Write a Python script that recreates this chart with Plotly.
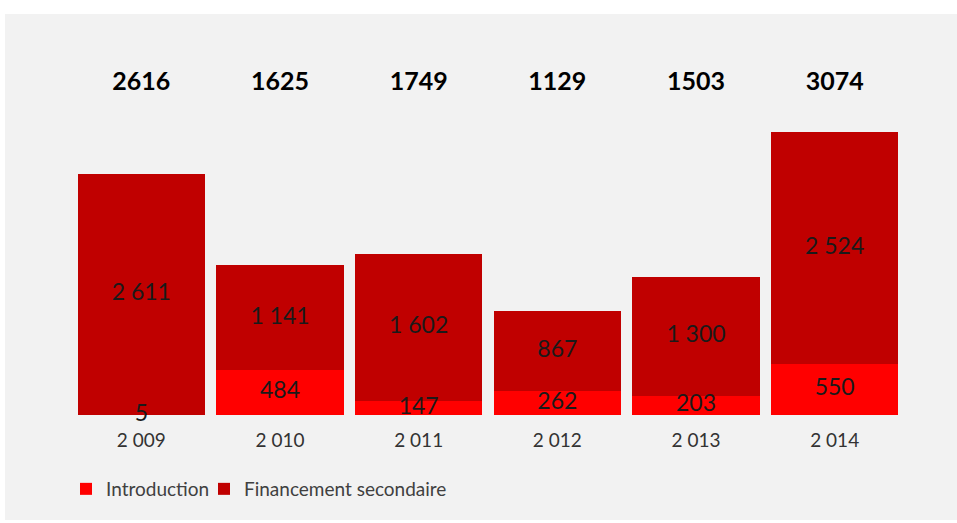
import plotly.graph_objects as go

years = ["2 009", "2 010", "2 011", "2 012", "2 013", "2 014"]
introduction = [5, 484, 147, 262, 203, 550]
financement = [2611, 1141, 1602, 867, 1300, 2524]
totals = [2616, 1625, 1749, 1129, 1503, 3074]

FONT = "Lato"
W, H = 957, 523
L, R, T, B = 72, 53, 60, 108
PW, PH = W - L - R, H - T - B
YMAX = 3854


def fmt(v):
    return f"{v:,}".replace(",", " ")


def px_x(p):
    return (p - L) / PW


def px_y(p):
    return (H - B - p) / PH


fig = go.Figure()
fig.add_trace(go.Bar(x=years, y=introduction, name="Introduction",
                     marker=dict(color="#ff0000", line=dict(width=0)),
                     hoverinfo="skip", legend="legend"))
fig.add_trace(go.Bar(x=years, y=financement, name="Financement secondaire",
                     marker=dict(color="#c00000", line=dict(width=0)),
                     hoverinfo="skip", legend="legend2"))

# segment labels
fig.add_trace(go.Scatter(
    x=years, y=[v / 2 for v in introduction], mode="text",
    text=[fmt(v) for v in introduction],
    textfont=dict(family=FONT, size=23, color="#1a1a1a"),
    showlegend=False, hoverinfo="skip", cliponaxis=False))
fig.add_trace(go.Scatter(
    x=years, y=[i + f / 2 for i, f in zip(introduction, financement)], mode="text",
    text=[fmt(v) for v in financement],
    textfont=dict(family=FONT, size=23, color="#1a1a1a"),
    showlegend=False, hoverinfo="skip", cliponaxis=False))
# totals
fig.add_trace(go.Scatter(
    x=years, y=[3600] * len(years), mode="text",
    text=[f"<b>{v}</b>" for v in totals],
    textfont=dict(family=FONT, size=25, color="#000000"),
    showlegend=False, hoverinfo="skip", cliponaxis=False))

fig.add_shape(type="rect", xref="paper", yref="paper",
              x0=px_x(5), x1=px_x(960), y0=px_y(520), y1=px_y(14),
              fillcolor="#f2f2f2", line=dict(width=0), layer="below")

legend_style = dict(orientation="h", xanchor="left",
                    y=px_y(489), yanchor="middle",
                    font=dict(family=FONT, size=19, color="#404040"),
                    bgcolor="rgba(0,0,0,0)", itemwidth=30)

fig.update_layout(
    width=W, height=H,
    margin=dict(l=L, r=R, t=T, b=B),
    paper_bgcolor="white", plot_bgcolor="rgba(0,0,0,0)",
    barmode="stack", bargap=0.084,
    font=dict(family=FONT, color="#404040"),
    xaxis=dict(showgrid=False, showline=False, zeroline=False, ticks="",
               tickfont=dict(family=FONT, size=19, color="#333333"),
               ticklabelstandoff=12),
    yaxis=dict(range=[0, YMAX], visible=False),
    legend=dict(x=px_x(66), **legend_style),
    legend2=dict(x=px_x(204), **legend_style),
)

fig.write_html("out.html", config={"displayModeBar": False},
               post_script="document.body.style.margin='0px';")
